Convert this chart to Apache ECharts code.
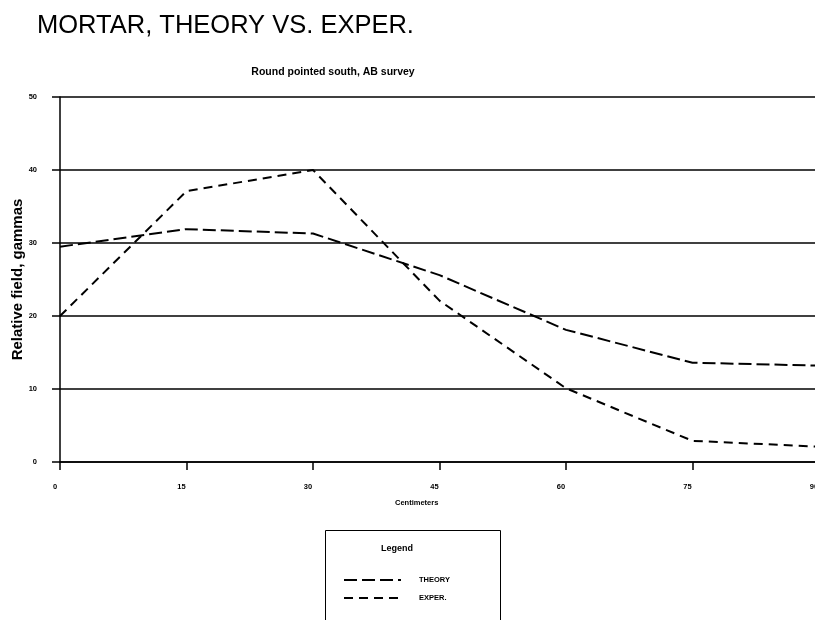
<!DOCTYPE html>
<html>
<head>
<meta charset="utf-8">
<script src="https://cdn.jsdelivr.net/npm/echarts@6/dist/echarts.min.js"></script>
<style>
html,body{margin:0;padding:0;background:#fff;}
#chart{width:815px;height:620px;}
</style>
</head>
<body>
<div id="chart"></div>
<script>
// Distance along the survey line (cm) and relative field (gammas)
const distances = [0, 15, 30, 45, 60, 75, 90];
const theory = [29.5, 31.9, 31.3, 25.6, 18.1, 13.6, 13.2];
const exper = [20.0, 37.1, 40.0, 22.1, 10.1, 2.9, 2.1];
const seriesNames = ['THEORY', 'EXPER.'];

const font = 'Liberation Sans, Arial, sans-serif';
const pairs = (ys) => distances.map((x, i) => [x, ys[i]]);

const chart = echarts.init(document.getElementById('chart'));
chart.setOption({
  animation: false,
  backgroundColor: '#fff',
  title: [
    { text: 'MORTAR, THEORY VS. EXPER.', left: 32, top: 8,
      textStyle: { fontFamily: font, fontSize: 25.5, fontWeight: 'normal', color: '#000' } },
    { text: 'Round pointed south, AB survey', left: 328, top: 62, textAlign: 'center',
      textStyle: { fontFamily: font, fontSize: 10.5, fontWeight: 'bold', color: '#000' } }
  ],
  grid: { left: 60, top: 97, right: -4, bottom: 158, outerBoundsMode: 'none' },
  xAxis: {
    type: 'value', min: 0, max: 90, interval: 15,
    axisLine: { show: true, lineStyle: { color: '#000', width: 1.5 } },
    axisTick: { show: true, length: 8, lineStyle: { color: '#000', width: 1.5 } },
    axisLabel: { margin: 21, padding: [0, 10, 0, 0], fontFamily: font, fontSize: 7.5, fontWeight: 'bold', color: '#000' },
    splitLine: { show: false }
  },
  yAxis: {
    type: 'value', min: 0, max: 50, interval: 10,
    name: 'Relative field, gammas', nameLocation: 'middle', nameGap: 35, nameRotate: 90,
    nameMoveOverlap: false,
    nameTextStyle: { fontFamily: font, fontSize: 15, fontWeight: 'bold', color: '#000' },
    axisLine: { show: true, lineStyle: { color: '#000', width: 1.5 } },
    axisTick: { show: true, length: 8, lineStyle: { color: '#000', width: 1.5 } },
    axisLabel: { margin: 23, fontFamily: font, fontSize: 7.5, fontWeight: 'bold', color: '#000' },
    splitLine: { show: true, lineStyle: { color: '#000', width: 1.6 } }
  },
  legend: {
    orient: 'vertical', left: 338, top: 571,
    itemWidth: 57, itemHeight: 10, itemGap: 10,
    itemStyle: { color: 'transparent', borderColor: 'transparent', borderWidth: 0 },
    textStyle: { fontFamily: font, fontSize: 7.5, fontWeight: 'bold', color: '#000', padding: [0, 0, 0, 13] },
    data: seriesNames
  },
  graphic: [
    { type: 'text', left: 395, top: 499,
      style: { text: 'Centimeters', fontFamily: font, fontSize: 7.5, fontWeight: 'bold', fill: '#000' } },
    { type: 'rect', shape: { x: 325.5, y: 530.5, width: 175, height: 100 },
      style: { fill: 'none', stroke: '#000', lineWidth: 1 }, z: 10 },
    { type: 'text', left: 381, top: 544,
      style: { text: 'Legend', fontFamily: font, fontSize: 9, fontWeight: 'bold', fill: '#000' }, z: 10 }
  ],
  series: [
    { name: seriesNames[0], type: 'line', data: pairs(theory), symbol: 'none',
      lineStyle: { color: '#000', width: 2, type: [13, 5] }, itemStyle: { color: '#000' } },
    { name: seriesNames[1], type: 'line', data: pairs(exper), symbol: 'none',
      lineStyle: { color: '#000', width: 2, type: [9, 6] }, itemStyle: { color: '#000' } }
  ]
});
</script>
</body>
</html>
